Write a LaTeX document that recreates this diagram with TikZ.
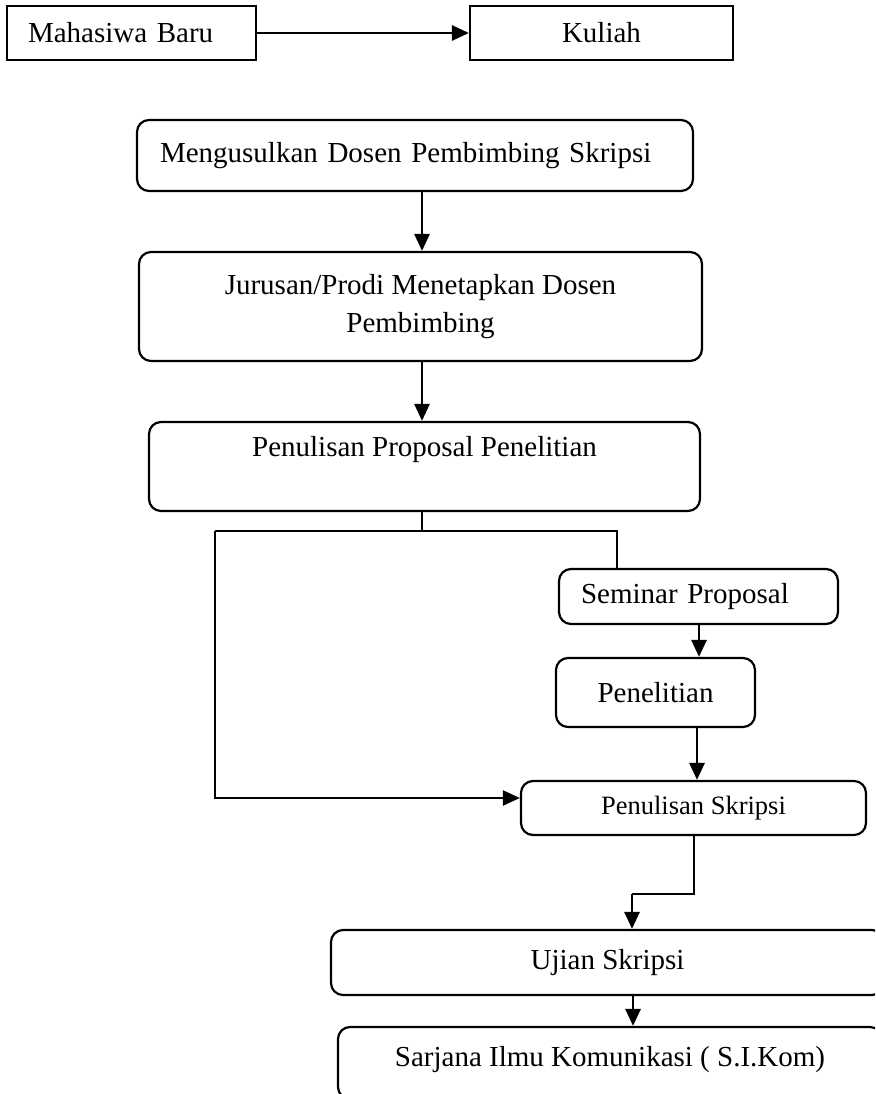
\documentclass[tikz,border=0pt]{standalone}
\usepackage{fontspec}
\setmainfont{Liberation Serif}
\usetikzlibrary{arrows.meta}
\begin{document}
\begin{tikzpicture}[x=1pt,y=-1pt,
  sqbox/.style={draw, line width=2.2pt, inner sep=0pt, font=\fontsize{29}{38}\selectfont},
  rbox/.style={sqbox, rounded corners=12pt},
  arr/.style={line width=2.8pt, -{Triangle[length=17pt,width=15pt]}},
  ln/.style={line width=1.8pt},
  lnarr/.style={line width=2.2pt, -{Triangle[length=17pt,width=15pt]}}]
\useasboundingbox (0,0) rectangle (875,1094);
\clip (0,0) rectangle (875,1094);
\node[sqbox, minimum width=249pt, minimum height=54pt, text width=207pt, inner xsep=21pt, align=left] (mb) at (131.5,33) {Mahasiwa Baru};
\node[sqbox, minimum width=263pt, minimum height=54pt] (ku) at (601.5,33) {Kuliah};
\node[rbox, minimum width=556pt, minimum height=71pt, text width=510pt, inner xsep=23pt, align=left] (mg) at (415,155.5) {Mengusulkan Dosen Pembimbing Skripsi};
\node[rbox, minimum width=563pt, minimum height=109pt, align=center] (jr) at (420.5,306.5) {Jurusan/Prodi Menetapkan Dosen\\Pembimbing};
\node[rbox, minimum width=551pt, minimum height=89pt, text depth=40pt] (pp) at (424.5,466.5) {Penulisan Proposal Penelitian};
\node[rbox, minimum width=279pt, minimum height=55pt, text width=235pt, inner xsep=22pt, align=left] (sp) at (698.5,596.5) {Seminar Proposal};
\node[rbox, minimum width=199pt, minimum height=69pt] (pn) at (655.5,692.5) {Penelitian};
\node[rbox, minimum width=345pt, minimum height=54pt, font=\fontsize{26.5}{32}\selectfont] (ps) at (693.5,808) {Penulisan Skripsi};
\node[rbox, minimum width=553pt, minimum height=65pt] (uj) at (607.5,962.5) {Ujian Skripsi};
\node[rbox, minimum width=544pt, minimum height=72pt, text depth=13pt] (sj) at (610,1063) {Sarjana Ilmu Komunikasi ( S.I.Kom)};
% connectors
\draw[arr] (mb.east) -- (ku.west);
\coordinate (c1) at (422,0);
\draw[arr] (mg.south -| c1) -- (jr.north -| c1);
\draw[arr] (jr.south -| c1) -- (pp.north -| c1);
\coordinate (br) at (422,531);
\coordinate (bl) at (215,531);
\coordinate (bri) at (617,531);
\coordinate (blb) at (215,798);
\draw[ln] (pp.south -| br) -- (br);
\draw[ln] (bl) -- (bri) -- (sp.north -| bri);
\draw[lnarr] (bl) -- (blb) -- (blb -| ps.west);
\coordinate (c2) at (699,0);
\draw[arr] (sp.south -| c2) -- (pn.north -| c2);
\coordinate (c3) at (697,0);
\draw[arr] (pn.south -| c3) -- (ps.north -| c3);
\coordinate (k1) at (694,894);
\coordinate (k2) at (632,894);
\draw[ln] (ps.south -| k1) -- (k1) -- (k2);
\draw[arr] (k2) -- (uj.north -| k2);
\coordinate (c4) at (633,0);
\draw[arr] (uj.south -| c4) -- (sj.north -| c4);
\end{tikzpicture}
\end{document}
